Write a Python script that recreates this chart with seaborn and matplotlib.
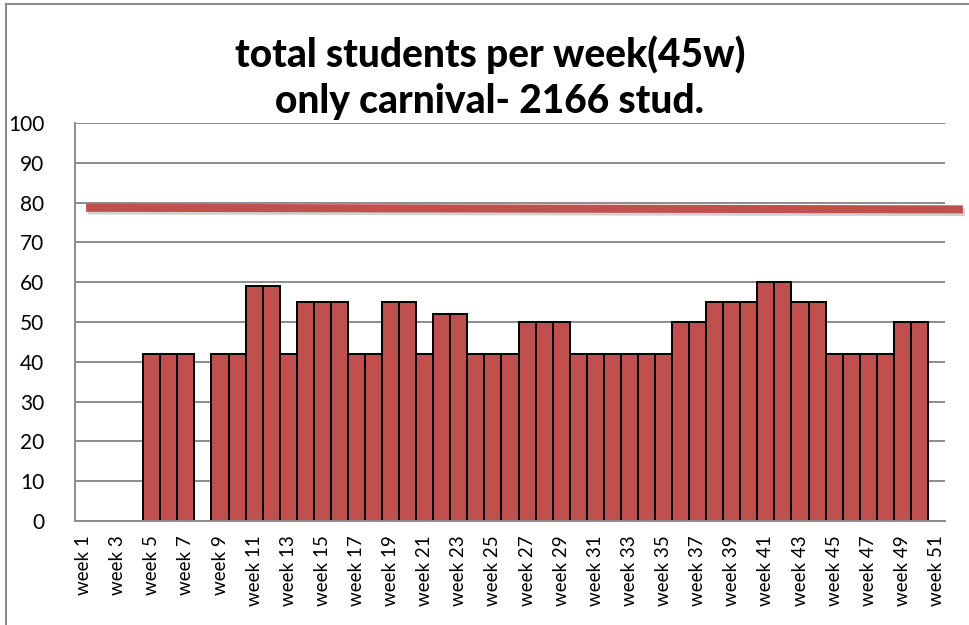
import numpy as np
import pandas as pd
import matplotlib.pyplot as plt
import matplotlib.patheffects as pe
from matplotlib.patches import Rectangle
import seaborn as sns

# data
weeks = ["week %d" % i for i in range(1, 52)]
students = [0, 0, 0, 0, 42, 42, 42, 0, 42, 42,
            59, 59, 42, 55, 55, 55, 42, 42, 55, 55,
            42, 52, 52, 42, 42, 42, 50, 50, 50, 42,
            42, 42, 42, 42, 42, 50, 50, 55, 55, 55,
            60, 60, 55, 55, 42, 42, 42, 42, 50, 50, 0]
# red reference line (slightly tilted in the original)
target_x = [0.15, 51.55]
target_y = [78.7, 78.3]
title = "total students per week(45w)\nonly carnival- 2166 stud."

df = pd.DataFrame({"week": weeks, "students": students})

sns.set_style("white")
plt.rcParams['font.family'] = ['Lato', 'DejaVu Sans']

fig = plt.figure(figsize=(9.7, 6.25), dpi=100)
ax = fig.add_axes([75 / 970, 104 / 625, 870 / 970, 398 / 625])

sns.barplot(data=df, x="week", y="students", color="#C0504D", saturation=1,
            edgecolor="black", linewidth=1.4, width=1.0, ax=ax)
# weeks without students: no bar at all
for p in ax.patches:
    if p.get_height() == 0:
        p.set_visible(False)

ax.set_xlim(-0.5, len(weeks) - 0.5)
ax.set_ylim(0, 100)
ax.set_yticks(range(0, 101, 10))
ax.yaxis.grid(True, color="#8c8c8c", linewidth=1.4)
ax.set_axisbelow(True)

ax.set_xticks(range(0, len(weeks), 2))
ax.set_xticklabels(weeks[::2], rotation=90)
ax.set_xticks(np.arange(-0.5, len(weeks), 1), minor=True)
ax.tick_params(axis="x", which="major", length=0, pad=10, labelsize=13.5, labelcolor="black")
ax.tick_params(axis="x", which="minor", length=5, width=1.2, color="#8c8c8c")
ax.tick_params(axis="y", length=8, width=1.2, color="#8c8c8c", pad=14, labelsize=15,
               labelcolor="black")
ax.set_xlabel("")
ax.set_ylabel("")

for s in ["top", "right"]:
    ax.spines[s].set_visible(False)
for s in ["left", "bottom"]:
    ax.spines[s].set_color("#8c8c8c")
    ax.spines[s].set_linewidth(1.4)

ax.plot(target_x, target_y, color="#C0504D", linewidth=5.8, clip_on=False,
        solid_capstyle="butt", zorder=5,
        path_effects=[pe.SimpleLineShadow(offset=(1.5, -2), alpha=0.18), pe.Normal()])

fig.text(0.505, 0.876, title, ha="center", va="center", fontsize=28,
         fontweight="black", linespacing=1.32, color="black")

# outer chart frame
fig.add_artist(Rectangle((6 / 970, -0.1), 1.2, 0.1 + 621 / 625, fill=False,
                         edgecolor="#8c8c8c", linewidth=1.5,
                         transform=fig.transFigure, clip_on=False))

fig.savefig("out.png", dpi=100)
